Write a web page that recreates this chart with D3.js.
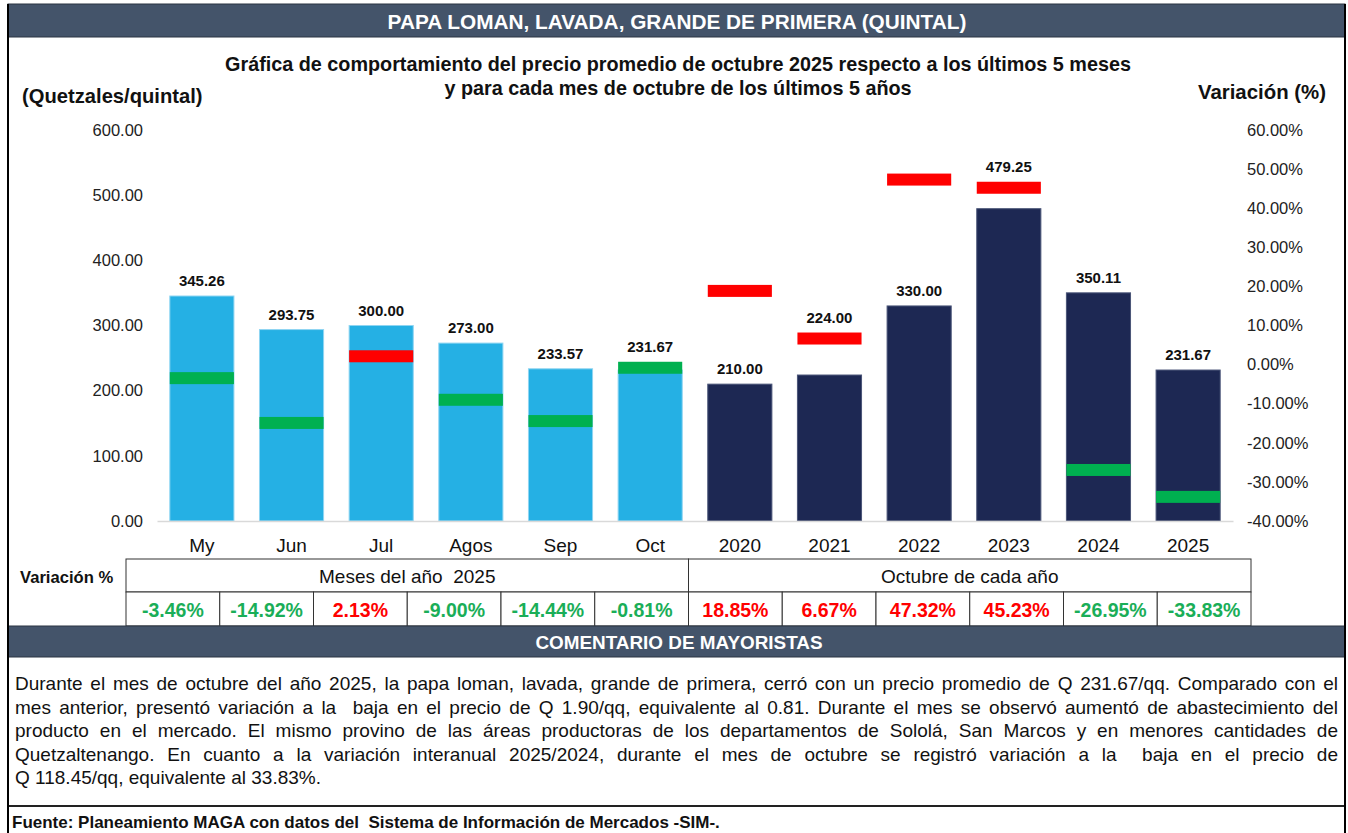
<!DOCTYPE html>
<html>
<head>
<meta charset="utf-8">
<script src="https://cdn.jsdelivr.net/npm/d3@7"></script>
<style>
  body { margin: 0; background: #fff; }
  text { font-family: "Liberation Sans", Arial, sans-serif; }
</style>
</head>
<body>
<div id="chart"></div>
<script>
// chart data
const categories = ["My", "Jun", "Jul", "Agos", "Sep", "Oct", "2020", "2021", "2022", "2023", "2024", "2025"];
const prices = [345.26, 293.75, 300.00, 273.00, 233.57, 231.67, 210.00, 224.00, 330.00, 479.25, 350.11, 231.67];
const variations = [-3.46, -14.92, 2.13, -9.00, -14.44, -0.81, 18.85, 6.67, 47.32, 45.23, -26.95, -33.83];
const groups = ["mes", "mes", "mes", "mes", "mes", "mes", "anio", "anio", "anio", "anio", "anio", "anio"];
const groupLabels = ["Meses del año  2025", "Octubre de cada año"];
const leftTicks = [0, 100, 200, 300, 400, 500, 600];
const rightTicks = [-40, -30, -20, -10, 0, 10, 20, 30, 40, 50, 60];

const titleText = "PAPA LOMAN, LAVADA, GRANDE DE PRIMERA (QUINTAL)";
const subtitleLines = [
    "Gráfica de comportamiento del precio promedio de octubre 2025 respecto a los últimos 5 meses",
    "y para cada mes de octubre de los últimos 5 años"
];
const commentLines = [
    "Durante el mes de octubre del año 2025, la papa loman, lavada, grande de primera, cerró con un precio promedio de Q 231.67/qq. Comparado con el",
    "mes anterior, presentó variación a la  baja en el precio de Q 1.90/qq, equivalente al 0.81. Durante el mes se observó aumentó de abastecimiento del",
    "producto en el mercado. El mismo provino de las áreas productoras de los departamentos de Sololá, San Marcos y en menores cantidades de",
    "Quetzaltenango. En cuanto a la variación interanual 2025/2024, durante el mes de octubre se registró variación a la  baja en el precio de",
    "Q 118.45/qq, equivalente al 33.83%."
];
const sourceText = "Fuente: Planeamiento MAGA con datos del  Sistema de Información de Mercados -SIM-.";

const W = 1348, H = 833;
const frameL = 8, frameR = 1345;
const headFill = "#44546A";
const colMes = "#25B0E4", colAnio = "#1D2853";
const green = "#00B050", red = "#FF0000";

//plain hyphen for negatives, like the original sheet
const fmt = d3.formatLocale({decimal: ".", thousands: ",", grouping: [3], currency: ["", ""], minus: "-"}).format(".2f");

const data = categories.map((c, i) => ({cat: c, price: prices[i], vari: variations[i], group: groups[i]}));

let svg = d3.select("#chart").append("svg")
    .attr("width", W)
    .attr("height", H);

svg.append("rect").attr("width", W).attr("height", H).attr("fill", "#fff");

//header band
svg.append("rect")
    .attr("x", frameL).attr("y", 4)
    .attr("width", frameR - frameL).attr("height", 33)
    .attr("fill", headFill).attr("stroke", "#2b3442").attr("stroke-width", 1);
svg.append("text")
    .attr("x", 677).attr("y", 28.5)
    .attr("text-anchor", "middle")
    .attr("fill", "#fff").attr("font-weight", "bold").attr("font-size", 20.8)
    .text(titleText);

//subtitle + axis titles
svg.selectAll(".sub").data(subtitleLines).enter().append("text")
    .attr("class", "sub")
    .attr("x", 678).attr("y", (d, i) => 71 + i * 24)
    .attr("text-anchor", "middle")
    .attr("font-weight", "bold").attr("font-size", 19.8).attr("fill", "#111")
    .text(d => d);
svg.append("text")
    .attr("x", 22).attr("y", 103)
    .attr("font-weight", "bold").attr("font-size", 20.2).attr("fill", "#111")
    .text("(Quetzales/quintal)");
svg.append("text")
    .attr("x", 1326).attr("y", 99)
    .attr("text-anchor", "end")
    .attr("font-weight", "bold").attr("font-size", 20.4).attr("fill", "#111")
    .text("Variación (%)");

//scales
let x = d3.scaleBand().domain(categories).range([157, 1233]).paddingInner(0.285).paddingOuter(0.143);
let yL = d3.scaleLinear().domain([0, 600]).range([521, 130]);
let yR = d3.scaleLinear().domain([-40, 60]).range([521, 130]);

//axes
let axL = svg.append("g")
    .attr("transform", "translate(147,0)")
    .call(d3.axisLeft(yL).tickValues(leftTicks).tickSize(0).tickPadding(4).tickFormat(fmt));
axL.select(".domain").remove();
axL.selectAll("text").attr("font-size", 16.5).attr("fill", "#222").attr("font-family", null);

let axR = svg.append("g")
    .attr("transform", "translate(1243,0)")
    .call(d3.axisRight(yR).tickValues(rightTicks).tickSize(0).tickPadding(4)
        .tickFormat(d => fmt(d) + "%"));
axR.select(".domain").remove();
axR.selectAll("text").attr("font-size", 16.5).attr("fill", "#222").attr("font-family", null);

//bars
svg.selectAll(".bar").data(data).enter().append("rect")
    .attr("class", "bar")
    .attr("x", d => x(d.cat))
    .attr("y", d => yL(d.price))
    .attr("width", x.bandwidth())
    .attr("height", d => yL(0) - yL(d.price))
    .attr("fill", d => d.group === "mes" ? colMes : colAnio)
    .attr("stroke", d => d.group === "mes" ? "#8fd5f2" : "#4a5578")
    .attr("stroke-width", 1);

//variation markers (right axis)
const markH = 12;
svg.selectAll(".mark").data(data).enter().append("rect")
    .attr("class", "mark")
    .attr("x", d => x(d.cat))
    .attr("y", d => yR(d.vari) - markH / 2)
    .attr("width", x.bandwidth())
    .attr("height", markH)
    .attr("fill", d => d.vari < 0 ? green : red);

//x axis
let axB = svg.append("g")
    .attr("transform", "translate(0,521)")
    .call(d3.axisBottom(x).tickSize(0).tickSizeOuter(0).tickPadding(18));
axB.select(".domain").attr("stroke", "#d9d9d9").attr("stroke-width", 1.5);
axB.selectAll("text").attr("font-size", 19).attr("fill", "#111").attr("font-family", null);

//data labels, lifted over a marker sitting just above the bar
svg.selectAll(".lbl").data(data).enter().append("text")
    .attr("class", "lbl")
    .attr("x", d => x(d.cat) + x.bandwidth() / 2)
    .attr("y", d => {
        let top = yL(d.price);
        let mTop = yR(d.vari) - markH / 2;
        if (mTop < top && top - mTop < 50) top = mTop;
        return top - 10;
    })
    .attr("text-anchor", "middle")
    .attr("font-weight", "bold").attr("font-size", 15).attr("fill", "#111")
    .text(d => fmt(d.price));

//variation table
const tL = 126, tR = 1251, r0 = 559, r1 = 592, r2 = 626;
const cellW = (tR - tL) / categories.length;
svg.append("text")
    .attr("x", 20).attr("y", 583)
    .attr("font-weight", "bold").attr("font-size", 16.6).attr("fill", "#111")
    .text("Variación %");

let table = svg.append("g");
groupLabels.forEach((g, i) => {
    table.append("rect")
        .attr("x", tL + i * 6 * cellW).attr("y", r0)
        .attr("width", 6 * cellW).attr("height", r1 - r0)
        .attr("fill", "#fff").attr("stroke", "#333").attr("stroke-width", 1);
    table.append("text")
        .attr("x", tL + i * 6 * cellW + 3 * cellW).attr("y", r0 + 24)
        .attr("text-anchor", "middle")
        .attr("font-size", 19).attr("fill", "#111")
        .style("white-space", "pre")
        .text(g);
});
table.selectAll(".cell").data(data).enter().append("rect")
    .attr("class", "cell")
    .attr("x", (d, i) => tL + i * cellW).attr("y", r1)
    .attr("width", cellW).attr("height", r2 - r1)
    .attr("fill", "#fff").attr("stroke", "#333").attr("stroke-width", 1);
table.selectAll(".pct").data(data).enter().append("text")
    .attr("class", "pct")
    .attr("x", (d, i) => tL + (i + 0.5) * cellW).attr("y", r1 + 25)
    .attr("text-anchor", "middle")
    .attr("font-weight", "bold").attr("font-size", 19.5)
    .attr("fill", d => d.vari < 0 ? "#1aae58" : red)
    .text(d => fmt(d.vari) + "%");

//comment band
svg.append("rect")
    .attr("x", frameL).attr("y", r2)
    .attr("width", frameR - frameL).attr("height", 31)
    .attr("fill", headFill).attr("stroke", "#2b3442").attr("stroke-width", 1);
svg.append("text")
    .attr("x", 679).attr("y", 648.5)
    .attr("text-anchor", "middle")
    .attr("fill", "#fff").attr("font-weight", "bold").attr("font-size", 18.9)
    .text("COMENTARIO DE MAYORISTAS");

//comment text, justified line by line
const cL = 15, cR = 1338;
commentLines.forEach((line, i) => {
    let t = svg.append("text")
        .attr("x", cL).attr("y", 690 + i * 23.6)
        .attr("font-size", 19).attr("fill", "#111")
        .style("white-space", "pre")
        .text(line);
    if (i < commentLines.length - 1) {
        let len = t.node().getComputedTextLength();
        let gaps = (line.match(/ /g) || []).length;
        t.style("word-spacing", ((cR - cL - len) / gaps) + "px");
    }
});

//source line
svg.append("line")
    .attr("x1", frameL).attr("x2", frameR).attr("y1", 806).attr("y2", 806)
    .attr("stroke", "#222").attr("stroke-width", 2);
svg.append("text")
    .attr("x", 12).attr("y", 828)
    .attr("font-weight", "bold").attr("font-size", 17).attr("fill", "#111")
    .style("white-space", "pre")
    .text(sourceText);

//outer frame sides
[frameL, frameR].forEach(fx => {
    svg.append("line")
        .attr("x1", fx).attr("x2", fx).attr("y1", 4).attr("y2", H)
        .attr("stroke", "#000").attr("stroke-width", 2);
});
</script>
</body>
</html>
